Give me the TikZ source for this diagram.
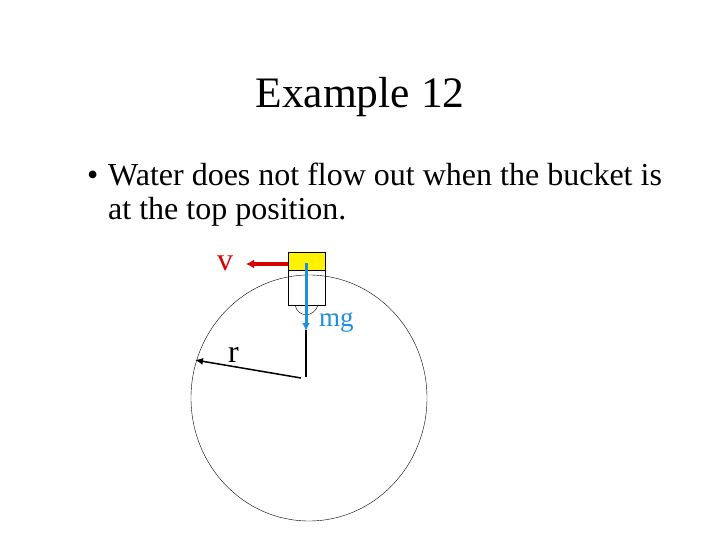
\documentclass[tikz,border=0pt]{standalone}
\usepackage{fontspec}
\setmainfont{Liberation Serif}
\usetikzlibrary{arrows.meta,shapes.geometric}
\begin{document}
\begin{tikzpicture}[x=1pt,y=-1pt,
  lbl/.style={inner sep=0pt,anchor=base west},
  arr/.style={line width=3.5pt,-{Latex[length=8pt,width=9pt]}}]
\useasboundingbox (0,0) rectangle (720,540);
\node[inner sep=0pt] (title) at (360,97) {\fontsize{43.5}{52}\selectfont Example 12};
\node[lbl] (bul) at (87,186) {\fontsize{32}{38}\selectfont •};
\node[lbl] (l1) at (108,186) {\fontsize{32}{38}\selectfont Water does not flow out when the bucket is};
\node[lbl] (l2) at (108,219) {\fontsize{32}{38}\selectfont at the top position.};
\node[draw,ellipse,minimum width=236pt,minimum height=246pt,inner sep=0pt,thin] (circ) at (309,398) {};
\node[draw,fill=yellow,minimum width=37pt,minimum height=18pt,inner sep=0pt,anchor=north west] (water) at (288,252) {};
\node[draw,minimum width=37pt,minimum height=35pt,inner sep=0pt,anchor=north west] (bucket) at (288,270) {};
\draw (295,305) .. controls (298,318) and (314,318) .. (318,305);
\coordinate (c) at (306,377);
\coordinate (ropetop) at (306,330);
\coordinate (redge) at (195,360);
\draw[line width=1.3pt] (ropetop) -- (c);
\draw[line width=1.5pt,-{Latex[length=8pt,width=7pt]}] (301,378) -- (redge);
\draw[arr,red!85!black] (288,264) -- (246,264);
\draw[line width=3pt,-{Latex[length=8pt,width=8pt]},color={rgb,255:red,30;green,144;blue,220}] (306,263) -- (306,331);
\node[lbl,text={rgb,255:red,30;green,144;blue,220}] (mg) at (319,326) {\fontsize{27}{32}\selectfont mg};
\node[lbl,text=red!85!black] (v) at (217,270) {\fontsize{32}{38}\selectfont v};
\node[lbl] (r) at (228,362) {\fontsize{32}{38}\selectfont r};
\end{tikzpicture}
\end{document}
